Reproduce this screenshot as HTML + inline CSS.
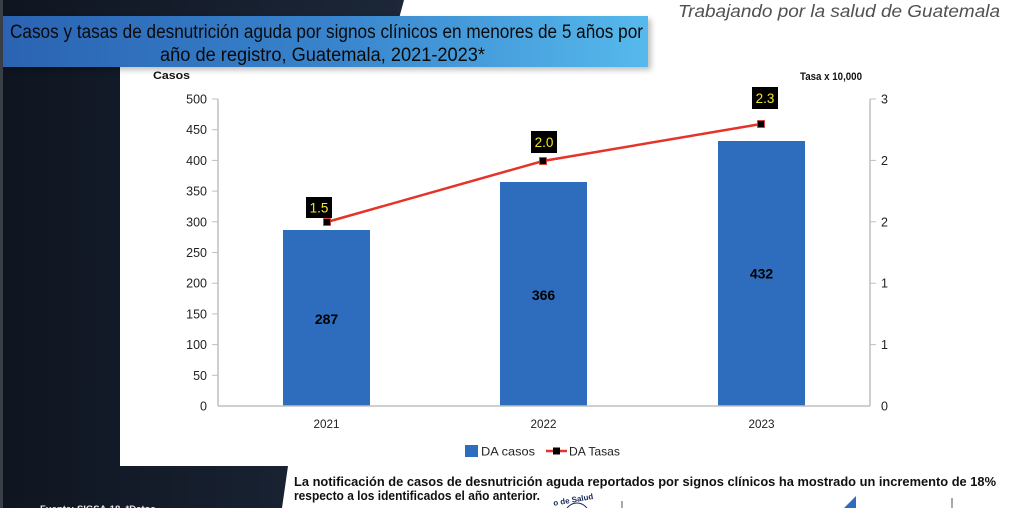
<!DOCTYPE html>
<html>
<head>
<meta charset="utf-8">
<style>
html,body{margin:0;padding:0;background:#fff;}
body{width:1024px;height:508px;overflow:hidden;}
svg{display:block;}
text{font-family:"Liberation Sans",Arial,sans-serif;}
</style>
</head>
<body>
<svg width="1024" height="508" viewBox="0 0 1024 508" xmlns="http://www.w3.org/2000/svg">
  <defs>
    <linearGradient id="dark" x1="0" y1="0" x2="1" y2="0">
      <stop offset="0" stop-color="#0f1520"/>
      <stop offset="1" stop-color="#1c2739"/>
    </linearGradient>
    <linearGradient id="tbar" x1="0" y1="0" x2="1" y2="0">
      <stop offset="0" stop-color="#2a63b2"/>
      <stop offset="0.5" stop-color="#3883cc"/>
      <stop offset="1" stop-color="#56b9ec"/>
    </linearGradient>
    <filter id="sh" x="-5%" y="-20%" width="110%" height="150%">
      <feGaussianBlur stdDeviation="3"/>
    </filter>
  </defs>

  <rect width="1024" height="508" fill="#ffffff"/>

  <!-- dark background panel -->
  <polygon points="0,0 404,0 386,67 120,67 120,466 288,466 282,508 0,508" fill="url(#dark)"/>
  <rect x="0" y="0" width="3" height="508" fill="#3a3e46"/>

  <!-- header slogan -->
  <text x="678" y="17" font-size="17.5" font-style="italic" fill="#505050" textLength="322" lengthAdjust="spacingAndGlyphs">Trabajando por la salud de Guatemala</text>

  <!-- title bar -->
  <rect x="6" y="19" width="645" height="51" fill="#000" opacity="0.25" filter="url(#sh)"/>
  <rect x="3" y="16" width="645" height="51" fill="url(#tbar)"/>
  <text x="10" y="38" font-size="19" fill="#0a0a0a" textLength="633" lengthAdjust="spacingAndGlyphs">Casos y tasas de desnutrición aguda por signos clínicos en menores de 5 años por</text>
  <text x="160" y="61" font-size="19" fill="#0a0a0a" textLength="325" lengthAdjust="spacingAndGlyphs">año de registro,  Guatemala, 2021-2023*</text>

  <!-- axis titles -->
  <text x="153" y="79" font-size="11" font-weight="bold" fill="#111" textLength="37" lengthAdjust="spacingAndGlyphs">Casos</text>
  <text x="800" y="80" font-size="11" font-weight="bold" fill="#111" textLength="62" lengthAdjust="spacingAndGlyphs">Tasa  x 10,000</text>

  <!-- left axis -->
  <line x1="218" y1="99" x2="218" y2="406" stroke="#bfbfbf" stroke-width="1.5"/>
  <g stroke="#bfbfbf" stroke-width="1">
    <line x1="212" y1="99" x2="218" y2="99"/>
    <line x1="212" y1="129.7" x2="218" y2="129.7"/>
    <line x1="212" y1="160.4" x2="218" y2="160.4"/>
    <line x1="212" y1="191.1" x2="218" y2="191.1"/>
    <line x1="212" y1="221.8" x2="218" y2="221.8"/>
    <line x1="212" y1="252.5" x2="218" y2="252.5"/>
    <line x1="212" y1="283.2" x2="218" y2="283.2"/>
    <line x1="212" y1="313.9" x2="218" y2="313.9"/>
    <line x1="212" y1="344.6" x2="218" y2="344.6"/>
    <line x1="212" y1="375.3" x2="218" y2="375.3"/>
  </g>
  <g font-size="12.5" fill="#222" text-anchor="end">
    <text x="207" y="103.5">500</text>
    <text x="207" y="134.2">450</text>
    <text x="207" y="164.9">400</text>
    <text x="207" y="195.6">350</text>
    <text x="207" y="226.3">300</text>
    <text x="207" y="257">250</text>
    <text x="207" y="287.7">200</text>
    <text x="207" y="318.4">150</text>
    <text x="207" y="349.1">100</text>
    <text x="207" y="379.8">50</text>
    <text x="207" y="410.5">0</text>
  </g>

  <!-- right axis -->
  <line x1="870" y1="99" x2="870" y2="406" stroke="#bfbfbf" stroke-width="1.5"/>
  <g stroke="#bfbfbf" stroke-width="1">
    <line x1="870" y1="99" x2="876" y2="99"/>
    <line x1="870" y1="160.4" x2="876" y2="160.4"/>
    <line x1="870" y1="221.8" x2="876" y2="221.8"/>
    <line x1="870" y1="283.2" x2="876" y2="283.2"/>
    <line x1="870" y1="344.6" x2="876" y2="344.6"/>
  </g>
  <g font-size="12.5" fill="#222">
    <text x="881" y="103.5">3</text>
    <text x="881" y="164.9">2</text>
    <text x="881" y="226.3">2</text>
    <text x="881" y="287.7">1</text>
    <text x="881" y="349.1">1</text>
    <text x="881" y="410.5">0</text>
  </g>

  <!-- bars -->
  <rect x="283" y="230" width="87" height="176" fill="#2e6dbd"/>
  <rect x="500" y="182" width="87" height="224" fill="#2e6dbd"/>
  <rect x="718" y="141" width="87" height="265" fill="#2e6dbd"/>

  <!-- x axis -->
  <line x1="218" y1="406" x2="870" y2="406" stroke="#bfbfbf" stroke-width="1.5"/>

  <!-- bar labels -->
  <g font-size="14" font-weight="bold" fill="#000" text-anchor="middle">
    <text x="326.5" y="324">287</text>
    <text x="543.5" y="300">366</text>
    <text x="761.5" y="278.5">432</text>
  </g>

  <!-- year labels -->
  <g font-size="12" fill="#222">
    <text x="313.5" y="428" textLength="26" lengthAdjust="spacingAndGlyphs">2021</text>
    <text x="530.5" y="428" textLength="26" lengthAdjust="spacingAndGlyphs">2022</text>
    <text x="748.5" y="428" textLength="26" lengthAdjust="spacingAndGlyphs">2023</text>
  </g>

  <!-- rate line -->
  <polyline points="327,222 543,161 761,124" fill="none" stroke="#e5332a" stroke-width="2.5"/>
  <g fill="#000" stroke="#e5332a" stroke-width="0.8">
    <rect x="323.5" y="218.5" width="7" height="7"/>
    <rect x="539.5" y="157.5" width="7" height="7"/>
    <rect x="757.5" y="120.5" width="7" height="7"/>
  </g>

  <!-- rate data labels -->
  <g fill="#000">
    <rect x="306" y="197" width="26" height="21"/>
    <rect x="531" y="131" width="26" height="22"/>
    <rect x="752" y="87" width="26" height="22"/>
  </g>
  <g font-size="13.5" fill="#f2e52c" text-anchor="middle">
    <text x="319" y="212.5">1.5</text>
    <text x="544" y="147">2.0</text>
    <text x="765" y="103">2.3</text>
  </g>

  <!-- legend -->
  <rect x="465" y="445" width="13" height="12" fill="#2e6dbd"/>
  <text x="481" y="455.5" font-size="12" fill="#222" textLength="54" lengthAdjust="spacingAndGlyphs">DA casos</text>
  <line x1="546" y1="451" x2="567" y2="451" stroke="#e5332a" stroke-width="2.5"/>
  <rect x="553" y="447.5" width="7" height="7" fill="#000"/>
  <text x="569" y="455.5" font-size="12" fill="#222" textLength="51" lengthAdjust="spacingAndGlyphs">DA Tasas</text>

  <!-- bottom note -->
  <g font-size="12.5" font-weight="bold" fill="#111">
    <text x="294" y="486" textLength="702" lengthAdjust="spacingAndGlyphs">La notificación de casos de desnutrición aguda reportados por signos clínicos ha mostrado un incremento de 18%</text>
    <text x="294" y="500" textLength="246" lengthAdjust="spacingAndGlyphs">respecto a los identificados el año anterior.</text>
  </g>

  <!-- footer source -->
  <text x="40" y="512" font-size="9.5" font-weight="bold" fill="#e8e8e8">Fuente: SIGSA-18, *Datos</text>

  <!-- logo fragments -->
  <text x="553" y="503" font-size="8" font-weight="bold" fill="#1a2a5a" transform="rotate(-10 570 500)">o de Salud</text>
  <circle cx="577" cy="515" r="12" fill="none" stroke="#1a2a5a" stroke-width="1"/>
  <line x1="622" y1="501" x2="622" y2="508" stroke="#555" stroke-width="1"/>
  <polygon points="856,496 856,508 844,508" fill="#2e6dbd"/>
  <line x1="952" y1="498" x2="952" y2="508" stroke="#555" stroke-width="1"/>
</svg>
</body>
</html>
